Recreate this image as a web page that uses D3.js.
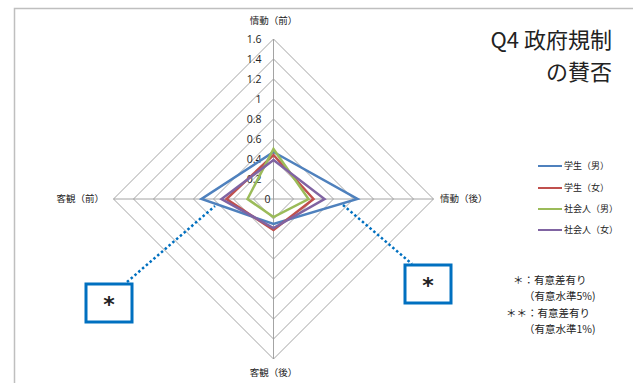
<!DOCTYPE html>
<html>
<head>
<meta charset="utf-8">
<script src="https://cdn.jsdelivr.net/npm/d3@7/dist/d3.min.js"></script>
<style>
  html, body { margin: 0; padding: 0; background: #fff; }
  svg { display: block; }
  text { font-family: "Noto Sans CJK JP", "Noto Sans", sans-serif; fill: #222; }
</style>
</head>
<body>
<svg id="chart" width="633" height="383"></svg>
<script>
// Radar axes (clockwise from top)
const axes = ["情動（前）", "情動（後）", "客観（後）", "客観（前）"];
// Radial tick values
const ticks = [0, 0.2, 0.4, 0.6, 0.8, 1, 1.2, 1.4, 1.6];
const tickLabels = ["0", "0.2", "0.4", "0.6", "0.8", "1", "1.2", "1.4", "1.6"];
// Series
const seriesNames = ["学生（男）", "学生（女）", "社会人（男）", "社会人（女）"];
const seriesColors = ["#4F81BD", "#C0504D", "#9BBB59", "#8064A2"];
const studentMale = [0.47, 0.84, 0.25, 0.72];
const studentFemale = [0.44, 0.40, 0.31, 0.47];
const workerMale = [0.50, 0.35, 0.18, 0.26];
const workerFemale = [0.39, 0.51, 0.29, 0.52];
const seriesValues = [studentMale, studentFemale, workerMale, workerFemale];
// Significance notes
const noteLines = ["＊：有意差有り", "（有意水準5%)", "＊＊：有意差有り", "（有意水準1%)"];

const svg = d3.select("#chart");
const cx = 273.5, cy = 199;
const r = d3.scaleLinear().domain([0, 1.6]).range([0, 160]);
const angle = d3.scaleLinear().domain([0, axes.length]).range([0, 2 * Math.PI]);
const pt = (i, v) => {
  const a = angle(i);
  return [cx + r(v) * Math.sin(a), cy - r(v) * Math.cos(a)];
};

// Frame
svg.append("path")
  .attr("d", "M14.5,383 L14.5,8.5 L633,8.5")
  .attr("fill", "none").attr("stroke", "#bfbfbf").attr("stroke-width", 1.5);

// Grid rings
const g = svg.append("g");
ticks.filter(t => t > 0).forEach(t => {
  g.append("path")
    .attr("d", d3.line()(axes.map((_, i) => pt(i, t))) + "Z")
    .attr("fill", "none").attr("stroke", "#9a9a9a").attr("stroke-width", 0.9);
});
// Spokes
axes.forEach((_, i) => {
  const [x, y] = pt(i, 1.6);
  g.append("line").attr("x1", cx).attr("y1", cy).attr("x2", x).attr("y2", y)
    .attr("stroke", "#9a9a9a").attr("stroke-width", 0.9);
});

// Tick labels along the top spoke
ticks.forEach((t, k) => {
  svg.append("text")
    .attr("x", cx - (t === 0 ? 3 : 12))
    .attr("y", cy - r(t))
    .attr("dy", "0.35em")
    .attr("text-anchor", "end")
    .attr("font-size", 10.5)
    .style("font-family", "'Open Sans', sans-serif")
    .text(tickLabels[k]);
});

// Axis labels
const axisLabelPos = [
  { x: cx, y: 21, anchor: "middle" },
  { x: 440, y: 199, anchor: "start" },
  { x: cx, y: 373, anchor: "middle" },
  { x: 104, y: 199, anchor: "end" }
];
axes.forEach((name, i) => {
  svg.append("text")
    .attr("x", axisLabelPos[i].x).attr("y", axisLabelPos[i].y)
    .attr("dy", "0.35em")
    .attr("text-anchor", axisLabelPos[i].anchor)
    .attr("font-size", 9.5)
    .text(name);
});

// Series polygons
seriesValues.forEach((vals, s) => {
  svg.append("path")
    .attr("d", d3.line()(vals.map((v, i) => pt(i, v))) + "Z")
    .attr("fill", "none")
    .attr("stroke", seriesColors[s])
    .attr("stroke-width", 2.5)
    .attr("stroke-linejoin", "miter");
});

// Significance callouts
const callouts = [
  { line: [[127, 282], [215, 206]], box: [86, 284, 46, 38] },
  { line: [[343, 205], [412, 264]], box: [405, 265, 46, 38] }
];
callouts.forEach(c => {
  svg.append("line")
    .attr("x1", c.line[0][0]).attr("y1", c.line[0][1])
    .attr("x2", c.line[1][0]).attr("y2", c.line[1][1])
    .attr("stroke", "#0070C0").attr("stroke-width", 2.5)
    .attr("stroke-dasharray", "2.5,2.5");
  const [bx, by, bw, bh] = c.box;
  svg.append("rect").attr("x", bx).attr("y", by).attr("width", bw).attr("height", bh)
    .attr("fill", "#fff").attr("stroke", "#0070C0").attr("stroke-width", 3);
  svg.append("text")
    .attr("x", bx + bw / 2).attr("y", by + bh / 2 + 1)
    .attr("dy", "0.35em").attr("text-anchor", "middle")
    .attr("font-size", 22).attr("font-weight", "bold")
    .style("font-family", "'DejaVu Sans', sans-serif")
    .text("*");
});

// Title
svg.append("text").attr("x", 612).attr("y", 48).attr("text-anchor", "end")
  .attr("font-size", 22).text("Q4 政府規制");
svg.append("text").attr("x", 612).attr("y", 80).attr("text-anchor", "end")
  .attr("font-size", 22).text("の賛否");

// Legend
const legendY = [166, 188, 209, 230];
seriesNames.forEach((name, s) => {
  svg.append("line").attr("x1", 538).attr("x2", 562)
    .attr("y1", legendY[s]).attr("y2", legendY[s])
    .attr("stroke", seriesColors[s]).attr("stroke-width", 2);
  svg.append("text").attr("x", 564).attr("y", legendY[s]).attr("dy", "0.35em")
    .attr("font-size", 9).text(name);
});

// Notes
const notePos = [[513, 280], [524, 296], [506, 313], [524, 329]];
noteLines.forEach((t, k) => {
  svg.append("text").attr("x", notePos[k][0]).attr("y", notePos[k][1])
    .attr("dy", "0.35em").attr("font-size", 10.5).text(t);
});
</script>
</body>
</html>
